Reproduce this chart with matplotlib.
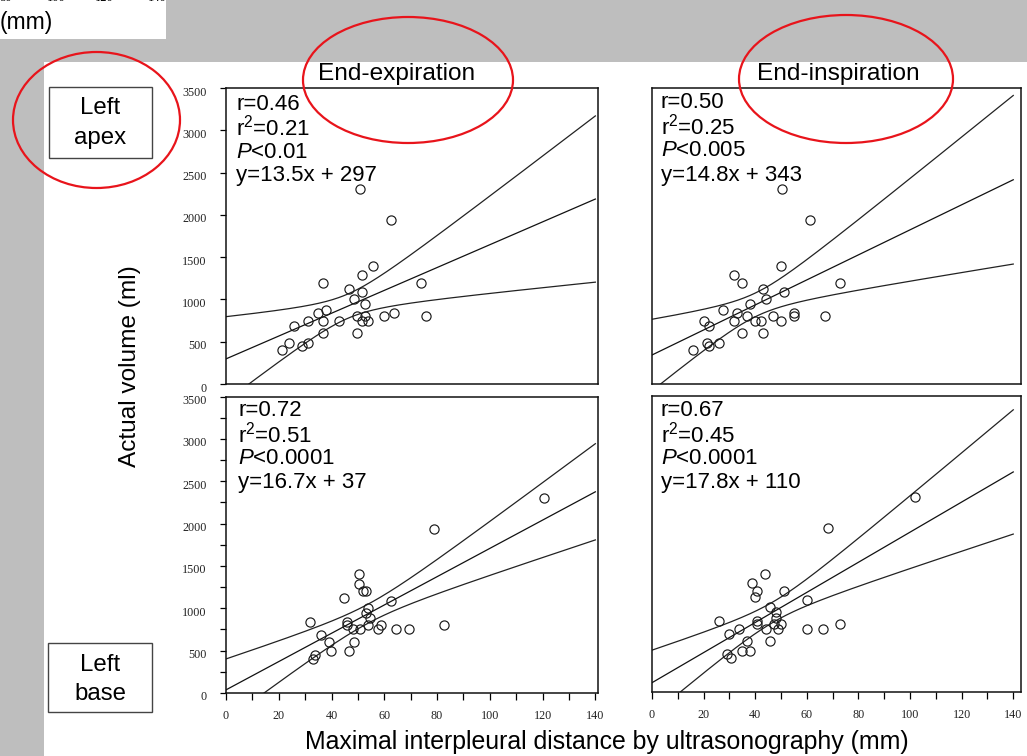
import numpy as np
import matplotlib
matplotlib.use("Agg")
import matplotlib.pyplot as plt
from matplotlib.patches import Ellipse, Rectangle
from matplotlib.transforms import ScaledTranslation

# ---------------- data ----------------
volume = [2300, 1940, 1400, 1290, 1200, 1200, 1120, 1090, 1000, 950, 880, 840, 840,
          800, 800, 800, 800, 750, 750, 750, 750, 750, 690, 600, 600, 490, 490, 450, 400]

apex_exp = [50.8, 62.6, 55.6, 51.7, 36.8, 74.0, 46.8, 51.7, 48.7, 52.8, 37.9, 34.8, 63.5,
            59.7, 75.9, 49.6, 52.7, 36.8, 30.9, 42.7, 51.6, 53.9, 25.8, 36.8, 49.6, 23.8, 30.9, 28.7, 21.2]
apex_insp = [50.2, 61.2, 50.0, 31.7, 34.8, 72.9, 43.0, 51.3, 44.0, 38.0, 27.6, 32.8, 55.1,
             55.1, 67.2, 37.0, 47.0, 20.1, 31.7, 39.9, 42.1, 50.0, 22.2, 34.8, 43.0, 21.2, 25.8, 22.2, 16.0]
base_exp = [120.6, 78.8, 50.6, 50.6, 51.9, 53.0, 44.6, 62.6, 53.7, 52.9, 54.6, 31.9, 45.9,
            45.9, 58.7, 82.7, 53.7, 48.3, 50.8, 57.5, 64.5, 69.3, 35.9, 39.1, 48.7, 39.8, 46.7, 33.6, 32.9]
base_insp = [102.1, 68.2, 43.9, 38.9, 40.8, 51.0, 39.9, 59.9, 45.8, 47.9, 47.9, 25.8, 40.8,
             72.7, 40.6, 49.9, 47.3, 33.8, 44.0, 49.0, 59.9, 66.1, 29.8, 36.7, 45.8, 34.7, 37.9, 28.9, 30.8]

slopes = [13.5, 14.8, 16.7, 17.8]
intercepts = [297, 343, 37, 110]

stats_text = [
    ["r=0.46", "r$^2$=0.21", "$\\mathit{P}$<0.01", "y=13.5x + 297"],
    ["r=0.50", "r$^2$=0.25", "$\\mathit{P}$<0.005", "y=14.8x + 343"],
    ["r=0.72", "r$^2$=0.51", "$\\mathit{P}$<0.0001", "y=16.7x + 37"],
    ["r=0.67", "r$^2$=0.45", "$\\mathit{P}$<0.0001", "y=17.8x + 110"],
]

col_titles = ["End-expiration", "End-inspiration"]
row_labels = [["Left", "apex"], ["Left", "base"]]
y_label = "Actual volume (ml)"
x_label = "Maximal interpleural distance by ultrasonography (mm)"
x_ticks = [0, 20, 40, 60, 80, 100, 120, 140]
y_ticks = [0, 500, 1000, 1500, 2000, 2500, 3000, 3500]
top_cut_ticks = ["80", "100", "120", "140"]

T_CRIT = 2.052  # t(0.975, df=27)

# ---------------- style ----------------
plt.rcParams['font.family'] = ['Liberation Serif', 'DejaVu Serif']
plt.rcParams['mathtext.fontset'] = 'custom'
plt.rcParams['mathtext.rm'] = 'Liberation Sans'
plt.rcParams['mathtext.it'] = 'Liberation Sans:italic'
plt.rcParams['mathtext.bf'] = 'Liberation Sans:bold'
SANS = ['Liberation Sans', 'DejaVu Sans']

W, H = 1027, 756
fig = plt.figure(figsize=(W / 100, H / 100), dpi=100)
fig.patch.set_facecolor('#bebebe')


def fx(px):
    return px / W


def fy(py):
    return 1 - py / H


# white page regions
fig.add_artist(Rectangle((fx(44), 0), 1 - fx(44), fy(62), transform=fig.transFigure,
                         facecolor='white', edgecolor='none', zorder=-10))
fig.add_artist(Rectangle((0, fy(39)), fx(166), 39 / H, transform=fig.transFigure,
                         facecolor='white', edgecolor='none', zorder=-10))
fig.text(fx(0), fy(23), "(mm)", family=SANS, fontsize=16.5, ha='left', va='center')
for lab, px in zip(top_cut_ticks, [6, 56, 104, 157]):
    fig.text(fx(px), fy(-2), lab, fontsize=9, ha='center', va='center')

# axes geometry (pixels): left, right, top, bottom
geoms = [(226, 598, 88, 384), (652, 1021, 88, 384),
         (226, 598, 396.5, 693), (652, 1021, 396, 692)]
xmaxes = [141, 143, 141, 143]
xs_all = [apex_exp, apex_insp, base_exp, base_insp]
text_pos = [(236, 104), (661, 103), (238, 411), (661, 411)]

vol = np.array(volume, dtype=float)
down = ScaledTranslation(0, -3 / 100, fig.dpi_scale_trans)
for i, (l, r, t, b) in enumerate(geoms):
    ax = fig.add_axes([fx(l), fy(b), (r - l) / W, (b - t) / H])
    ax.set_xlim(0, xmaxes[i])
    ax.set_ylim(0, 3500)
    for sp in ax.spines.values():
        sp.set_linewidth(1.1)
        sp.set_color('#111111')
    xd = np.array(xs_all[i], dtype=float)
    a, bb = intercepts[i], slopes[i]
    xg = np.linspace(0, 140, 300)
    center = a + bb * xg
    res = vol - (a + bb * xd)
    s = np.sqrt(np.sum(res ** 2) / (len(xd) - 2))
    sxx = np.sum((xd - xd.mean()) ** 2)
    hw = T_CRIT * s * np.sqrt(1 / len(xd) + (xg - xd.mean()) ** 2 / sxx)
    ax.plot(xg, center, color='#111111', lw=0.9)
    ax.plot(xg, center + hw, color='#222222', lw=0.9)
    ax.plot(xg, center - hw, color='#222222', lw=0.9)
    ax.plot(xd, vol, 'o', mfc='none', mec='#1a1a1a', ms=6.6, mew=0.85)

    left_col = (i % 2 == 0)
    bottom_row = (i >= 2)
    if left_col:
        ax.set_yticks(y_ticks)
        ax.set_yticklabels([str(v) for v in y_ticks], fontsize=8.7, color='#222222')
        if bottom_row:
            ax.set_yticks(np.arange(250, 3500, 500), minor=True)
        ax.tick_params(axis='y', which='both', direction='out', length=4, width=0.9, pad=10)
        for lbl in ax.get_yticklabels():
            lbl.set_transform(lbl.get_transform() + down)
    else:
        ax.set_yticks([])
    if bottom_row:
        ax.set_xticks(x_ticks)
        ax.set_xticklabels([str(v) for v in x_ticks], fontsize=8.7, color='#222222')
        ax.set_xticks(np.arange(10, 141, 20), minor=True)
        ax.tick_params(axis='x', which='both', direction='out', length=5, width=0.9, pad=7)
    else:
        ax.set_xticks([])

    tx, ty = text_pos[i]
    for k, line in enumerate(stats_text[i]):
        fig.text(fx(tx), fy(ty + 24 * k), line, family=SANS, fontsize=16,
                 ha='left', va='center', zorder=6)

# column titles
fig.text(fx(397), fy(74), col_titles[0], family=SANS, fontsize=17.6, ha='center', va='center')
fig.text(fx(838), fy(74), col_titles[1], family=SANS, fontsize=17.6, ha='center', va='center')

# row label boxes
for (bx0, by0, bx1, by1), words, (ty1, ty2) in zip(
        [(49, 87, 152, 158), (48, 643, 152, 712)], row_labels, [(108, 138), (665, 694)]):
    fig.add_artist(Rectangle((fx(bx0), fy(by1)), (bx1 - bx0) / W, (by1 - by0) / H,
                             transform=fig.transFigure, facecolor='white',
                             edgecolor='#444444', lw=1.0, zorder=4))
    cx = (bx0 + bx1) / 2
    fig.text(fx(cx), fy(ty1), words[0], family=SANS, fontsize=17.3, ha='center', va='center', zorder=5)
    fig.text(fx(cx), fy(ty2), words[1], family=SANS, fontsize=17.3, ha='center', va='center', zorder=5)

# axis labels
fig.text(fx(130), fy(366), y_label, family=SANS, fontsize=17.6, rotation=90,
         ha='center', va='center')
fig.text(fx(607), fy(742), x_label, family=SANS, fontsize=17.9, ha='center', va='center')

# red ellipses (annotations)
for (cx, cy, ew, eh) in [(96.5, 120, 167, 136), (408, 80, 210, 126), (846, 79, 214, 128)]:
    fig.add_artist(Ellipse((fx(cx), fy(cy)), ew / W, eh / H, transform=fig.transFigure,
                           facecolor='none', edgecolor='#e8141b', lw=1.6, zorder=8))

fig.savefig("out.png", dpi=100, facecolor=fig.get_facecolor())
